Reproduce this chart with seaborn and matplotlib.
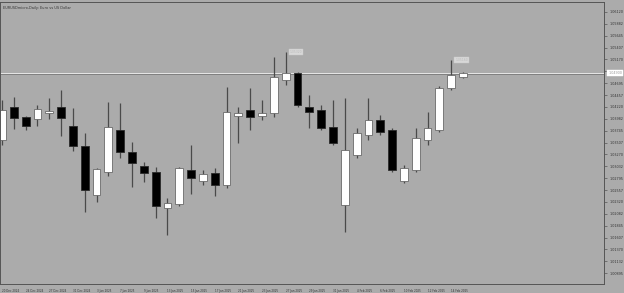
import matplotlib
matplotlib.use("Agg")
import matplotlib.pyplot as plt
import seaborn as sns
import numpy as np

# ---- data ----
dates = ["20 Dec 2024", "23 Dec 2024", "24 Dec 2024", "26 Dec 2024", "27 Dec 2024",
         "30 Dec 2024", "31 Dec 2024", "2 Jan 2025", "3 Jan 2025", "6 Jan 2025",
         "7 Jan 2025", "8 Jan 2025", "9 Jan 2025", "10 Jan 2025", "13 Jan 2025",
         "14 Jan 2025", "15 Jan 2025", "16 Jan 2025", "17 Jan 2025", "20 Jan 2025",
         "21 Jan 2025", "22 Jan 2025", "23 Jan 2025", "24 Jan 2025", "27 Jan 2025",
         "28 Jan 2025", "29 Jan 2025", "30 Jan 2025", "31 Jan 2025", "3 Feb 2025",
         "4 Feb 2025", "5 Feb 2025", "6 Feb 2025", "7 Feb 2025", "10 Feb 2025",
         "11 Feb 2025", "12 Feb 2025", "13 Feb 2025", "14 Feb 2025", "17 Feb 2025"]
opens = [1.0356, 1.0422, 1.0402, 1.0398, 1.0410, 1.0422, 1.0384, 1.0344, 1.0246, 1.0292,
         1.0376, 1.0332, 1.0304, 1.0292, 1.0220, 1.0228, 1.0296, 1.0274, 1.0290, 1.0266,
         1.0404, 1.0416, 1.0404, 1.0410, 1.0476, 1.0490, 1.0422, 1.0416, 1.0382, 1.0226,
         1.0326, 1.0366, 1.0396, 1.0376, 1.0274, 1.0296, 1.0356, 1.0376, 1.0460, 1.0482]
highs = [1.0436, 1.0442, 1.0404, 1.0426, 1.0440, 1.0456, 1.0420, 1.0370, 1.0300, 1.0432,
         1.0430, 1.0352, 1.0312, 1.0302, 1.0240, 1.0302, 1.0346, 1.0296, 1.0300, 1.0462,
         1.0422, 1.0460, 1.0436, 1.0522, 1.0532, 1.0492, 1.0446, 1.0426, 1.0436, 1.0440,
         1.0380, 1.0440, 1.0406, 1.0380, 1.0306, 1.0380, 1.0412, 1.0464, 1.0516, 1.0492]
lows = [1.0346, 1.0378, 1.0376, 1.0384, 1.0398, 1.0364, 1.0334, 1.0212, 1.0232, 1.0284,
        1.0320, 1.0262, 1.0272, 1.0200, 1.0166, 1.0224, 1.0248, 1.0266, 1.0244, 1.0260,
        1.0350, 1.0376, 1.0396, 1.0402, 1.0466, 1.0422, 1.0380, 1.0376, 1.0346, 1.0172,
        1.0320, 1.0356, 1.0366, 1.0292, 1.0270, 1.0292, 1.0346, 1.0372, 1.0456, 1.0480]
closes = [1.0416, 1.0400, 1.0384, 1.0418, 1.0414, 1.0400, 1.0344, 1.0256, 1.0298, 1.0382,
          1.0332, 1.0310, 1.0290, 1.0224, 1.0230, 1.0300, 1.0280, 1.0288, 1.0266, 1.0412,
          1.0410, 1.0402, 1.0410, 1.0482, 1.0490, 1.0426, 1.0412, 1.0380, 1.0350, 1.0336,
          1.0370, 1.0396, 1.0372, 1.0296, 1.0300, 1.0360, 1.0380, 1.0460, 1.0486, 1.0490]

price_ticks = [1.06120, 1.05882, 1.05645, 1.05407, 1.05170, 1.04932, 1.04695, 1.04457,
               1.04220, 1.03982, 1.03745, 1.03507, 1.03270, 1.03032, 1.02795, 1.02557,
               1.02320, 1.02082, 1.01845, 1.01607, 1.01370, 1.01132, 1.00895]
date_labels = ["20 Dec 2024", "24 Dec 2024", "27 Dec 2024", "31 Dec 2024", "3 Jan 2025",
               "7 Jan 2025", "9 Jan 2025", "13 Jan 2025", "15 Jan 2025", "17 Jan 2025",
               "21 Jan 2025", "23 Jan 2025", "27 Jan 2025", "29 Jan 2025", "31 Jan 2025",
               "4 Feb 2025", "6 Feb 2025", "10 Feb 2025", "12 Feb 2025", "14 Feb 2025"]
bid_price = 1.04900
title = "EURUSDmicro,Daily: Euro vs US Dollar"

# ---- style ----
BG = "#ababab"
sns.set_style("white", {"axes.facecolor": BG, "figure.facecolor": BG,
                        "axes.edgecolor": "#555555"})
plt.rcParams["font.family"] = ["DejaVu Sans"]

W, H = 624, 293
fig = plt.figure(figsize=(W / 100, H / 100), dpi=100)
left_px, right_px, top_px, bot_px = 0, 604, 2, 284
ax = fig.add_axes([left_px / W, (H - bot_px) / H, (right_px - left_px) / W, (bot_px - top_px) / H])
ax.set_facecolor(BG)

x = np.arange(len(dates))
o = np.array(opens); h = np.array(highs); l = np.array(lows); c = np.array(closes)
up = c >= o

# wicks
ax.vlines(x, l, h, color="#4a4a4a", lw=0.9, zorder=1)
# bodies
bottoms = np.minimum(o, c)
heights = np.maximum(np.abs(c - o), 0.00008)
ax.bar(x[up], heights[up], bottom=bottoms[up], width=0.66, color="white",
       edgecolor="#6a6a6a", linewidth=0.6, zorder=2)
ax.bar(x[~up], heights[~up], bottom=bottoms[~up], width=0.66, color="black",
       edgecolor="#2a2a2a", linewidth=0.6, zorder=2)

# bid line
ax.axhline(bid_price, color="#e6e6e6", lw=0.7, zorder=0.5)
ax.axhline(bid_price - 0.00018, color="#6e6e6e", lw=0.5, zorder=0.5)

# limits
step_px = 11.82
ax.set_xlim(-2 / step_px, (right_px - left_px - 2) / step_px)
ax.set_ylim(1.0068, 1.0632)

# y axis on right
ax.yaxis.tick_right()
ax.set_yticks(price_ticks)
ax.set_yticklabels([f"{v:.5f}" for v in price_ticks])
ax.tick_params(axis="y", direction="out", length=2.5, width=0.5, colors="#555555",
               labelsize=2.4, labelcolor="#333333", pad=1.5)
for lbl, v in zip(ax.get_yticklabels(), price_ticks):
    if abs(v - bid_price) < 0.0009:
        lbl.set_visible(False)

# x axis dates
label_idx = [dates.index(d) for d in date_labels]
ax.set_xticks(label_idx)
ax.set_xticklabels(date_labels, ha="left")
ax.tick_params(axis="x", direction="out", length=2.5, width=0.5, colors="#555555",
               labelsize=2.0, labelcolor="#333333", pad=1.0)

for s in ["left", "right", "top", "bottom"]:
    ax.spines[s].set_color("#555555")
    ax.spines[s].set_linewidth(0.7)

# bid price label on axis
ax.annotate(f"{bid_price:.5f}", xy=(1.0, bid_price), xycoords=("axes fraction", "data"),
            xytext=(3, 0), textcoords="offset points", fontsize=2.4, color="#999999",
            va="center", ha="left",
            bbox=dict(boxstyle="square,pad=0.3", fc="white", ec="white", lw=0.3))

# high markers
i27 = dates.index("27 Jan 2025")
i14 = dates.index("14 Feb 2025")
for i in (i27, i14):
    ax.annotate(f"{highs[i]:.5f}", xy=(i + 0.35, highs[i]), xycoords="data",
                xytext=(0, 0), textcoords="offset points", fontsize=2.2, color="#b8b8b8",
                va="center", ha="left",
                bbox=dict(boxstyle="square,pad=0.3", fc="#d8d8d8", ec="#c8c8c8", lw=0.3))

# title
ax.text(0.005, 0.985, title, transform=ax.transAxes, fontsize=2.5, color="#333333",
        va="top", ha="left")

fig.savefig("out.png", dpi=100, facecolor=BG)
